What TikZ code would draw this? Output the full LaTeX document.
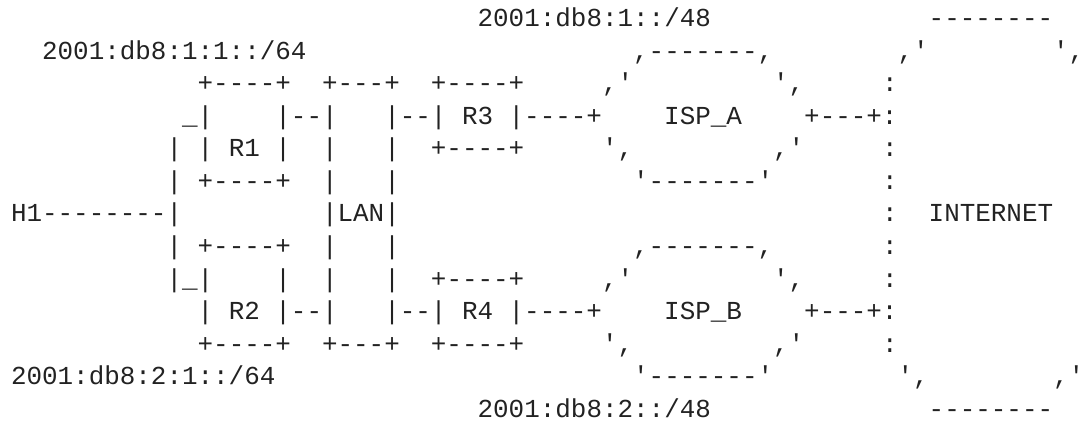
\documentclass[tikz,border=0pt]{standalone}
\usepackage{fontspec}
\setmonofont{Liberation Mono}
\frenchspacing
\definecolor{ink}{HTML}{222222}
\newcommand\blank[1]{\hspace*{#1\fontcharwd\font`\0}}
\tikzset{
  asciiline/.style={anchor=base west, inner sep=0pt, outer sep=0pt,
    text=ink, font=\ttfamily\fontsize{25.92pt}{32.5pt}\selectfont}
}
\begin{document}
\begin{tikzpicture}[x=1pt,y=1pt]
\useasboundingbox (0,0) rectangle (1092,-422);
\node[asciiline] (l1)  at (11,-27.0)  {\blank{30}2001:db8:1::/48\blank{14}--------};
\node[asciiline] (l2)  at (11,-59.5)  {\blank{2}2001:db8:1:1::/64\blank{21},-------,\blank{8},'\blank{8}',};
\node[asciiline] (l3)  at (11,-92.0)  {\blank{12}+----+\blank{2}+---+\blank{2}+----+\blank{5},'\blank{9}',\blank{5}:};
\node[asciiline] (l4)  at (11,-124.5) {\blank{11}\_|\blank{4}|--|\blank{3}|--|\blank{1}R3\blank{1}|----+\blank{4}ISP\_A\blank{4}+---+:};
\node[asciiline] (l5)  at (11,-157.0) {\blank{10}|\blank{1}|\blank{1}R1\blank{1}|\blank{2}|\blank{3}|\blank{2}+----+\blank{5}',\blank{9},'\blank{5}:};
\node[asciiline] (l6)  at (11,-189.5) {\blank{10}|\blank{1}+----+\blank{2}|\blank{3}|\blank{15}'-------'\blank{7}:};
\node[asciiline] (l7)  at (11,-222.0) {H1--------|\blank{9}|LAN|\blank{31}:\blank{2}INTERNET};
\node[asciiline] (l8)  at (11,-254.5) {\blank{10}|\blank{1}+----+\blank{2}|\blank{3}|\blank{15},-------,\blank{7}:};
\node[asciiline] (l9)  at (11,-287.0) {\blank{10}|\_|\blank{4}|\blank{2}|\blank{3}|\blank{2}+----+\blank{5},'\blank{9}',\blank{5}:};
\node[asciiline] (l10) at (11,-319.5) {\blank{12}|\blank{1}R2\blank{1}|--|\blank{3}|--|\blank{1}R4\blank{1}|----+\blank{4}ISP\_B\blank{4}+---+:};
\node[asciiline] (l11) at (11,-352.0) {\blank{12}+----+\blank{2}+---+\blank{2}+----+\blank{5}',\blank{9},'\blank{5}:};
\node[asciiline] (l12) at (11,-384.5) {2001:db8:2:1::/64\blank{23}'-------'\blank{8}',\blank{8},'};
\node[asciiline] (l13) at (11,-417.0) {\blank{30}2001:db8:2::/48\blank{14}--------};
\end{tikzpicture}
\end{document}
